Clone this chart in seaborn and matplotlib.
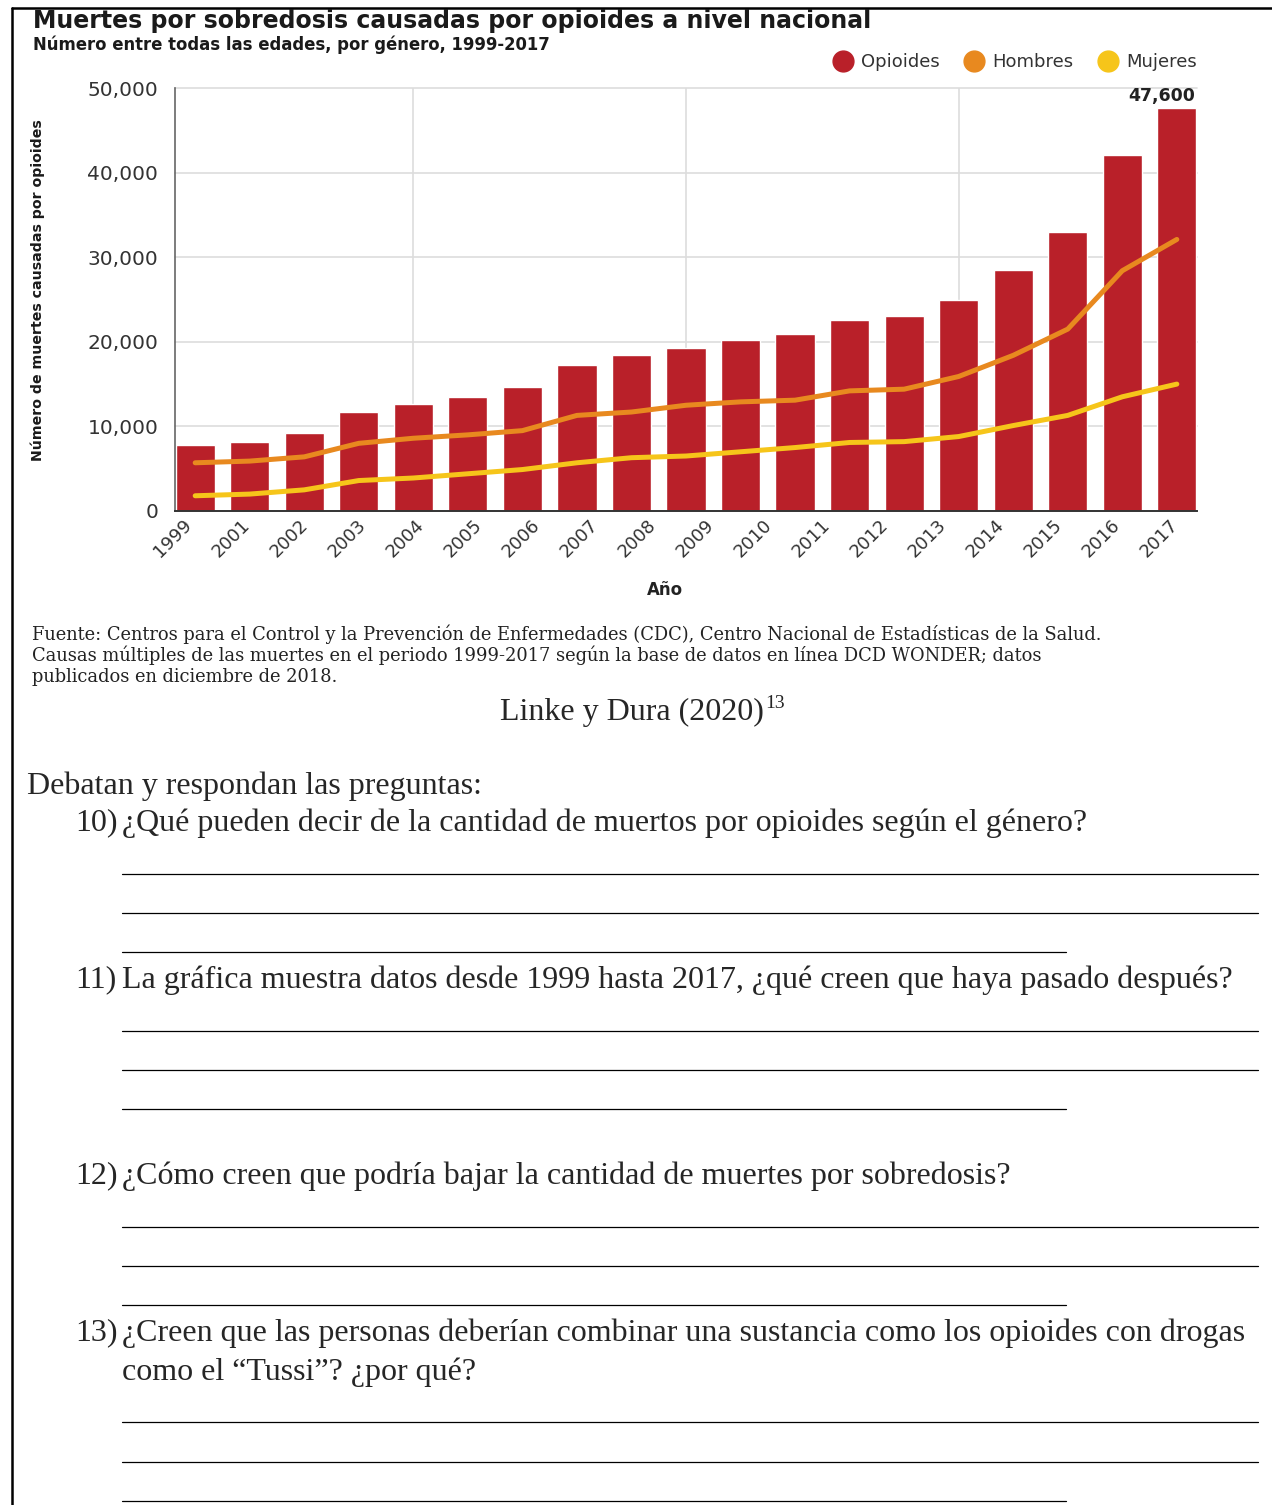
import matplotlib
matplotlib.use('Agg')
import matplotlib.pyplot as plt
from matplotlib.lines import Line2D
import numpy as np
import seaborn as sns

# ── Data ──
BAR_POS = list(range(19))
OPIOIDES = [7800, 8200, 9200, 11700, 12700, 13500, 14700, 17300, 18400, 19300,
            20200, 20900, 22600, 23000, 24900, 28500, 33000, 42100, 47600]
HOMBRES = [5700, 5900, 6400, 8000, 8600, 9000, 9500, 11300, 11700, 12500,
           12900, 13100, 14200, 14400, 15900, 18400, 21500, 28400, 32100]
MUJERES = [1800, 2000, 2500, 3600, 3900, 4400, 4900, 5700, 6300, 6500,
           7000, 7500, 8100, 8200, 8800, 10100, 11300, 13500, 15000]
YEAR_LABELS = ["1999", "2001", "2002", "2003", "2004", "2005", "2006", "2007", "2008",
               "2009", "2010", "2011", "2012", "2013", "2014", "2015", "2016", "2017"]
Y_TICKS = [0, 10000, 20000, 30000, 40000, 50000]
Y_TICK_LABELS = ["0", "10,000", "20,000", "30,000", "40,000", "50,000"]
SERIES = ["Opioides", "Hombres", "Mujeres"]

RED, ORANGE, YELLOW = '#B92029', '#E8891F', '#F6C51A'

W, H = 1272, 1505
def fx(px): return px / W
def fy(py): return 1 - py / H

sns.set_style('white')
plt.rcParams['font.family'] = ['DejaVu Sans']

fig = plt.figure(figsize=(W / 100, H / 100), dpi=100)
ax = fig.add_axes([fx(175), fy(511), (1197 - 175) / W, (511 - 88) / H])

# gridlines
for v in Y_TICKS[1:]:
    ax.axhline(v, color='#dddddd', lw=1.2, zorder=0, clip_on=False)
for p in [4, 9, 14]:
    ax.axvline(p, color='#dddddd', lw=1.2, zorder=0)

sns.barplot(x=BAR_POS, y=OPIOIDES, color=RED, width=0.72, saturation=1,
            ax=ax, zorder=2)
sns.lineplot(x=BAR_POS, y=HOMBRES, color=ORANGE, lw=3.6, ax=ax, zorder=3,
             solid_capstyle='round', solid_joinstyle='round')
sns.lineplot(x=BAR_POS, y=MUJERES, color=YELLOW, lw=3.6, ax=ax, zorder=3,
             solid_capstyle='round', solid_joinstyle='round')

ax.set_xlim(-0.37, 18.37)
ax.set_ylim(0, 50000)
ax.set_yticks(Y_TICKS)
ax.set_yticklabels(Y_TICK_LABELS, fontsize=14.5, color='#333333')
ax.set_xticks(np.linspace(-0.12, 17.98, len(YEAR_LABELS)))
ax.set_xticklabels(YEAR_LABELS, rotation=45, ha='right', va='center',
                   rotation_mode='anchor', fontsize=13, color='#333333')
ax.tick_params(axis='y', length=0, pad=12)
ax.tick_params(axis='x', length=0, pad=8)
ax.set_xlabel('')
ax.set_ylabel('')
for s in ['top', 'right']:
    ax.spines[s].set_visible(False)
ax.spines['left'].set_color('#666666')
ax.spines['left'].set_linewidth(1.2)
ax.spines['bottom'].set_color('#333333')
ax.spines['bottom'].set_linewidth(1.4)

ax.text(18.34, OPIOIDES[-1] + 350, '47,600', ha='right', va='bottom',
        fontsize=12.5, fontweight='bold', color='#222222')

# titles and labels
fig.text(fx(33), fy(21), 'Muertes por sobredosis causadas por opioides a nivel nacional',
         fontsize=17, fontweight='bold', color='#1a1a1a', va='center')
fig.text(fx(33), fy(45), 'Número entre todas las edades, por género, 1999-2017',
         fontsize=11.9, fontweight='bold', color='#1a1a1a', va='center')
fig.text(fx(38), fy(290), 'Número de muertes causadas por opioides', rotation=90,
         fontsize=10.2, fontweight='bold', color='#1a1a1a', ha='center', va='center')
fig.text(fx(665), fy(590), 'Año', fontsize=12, fontweight='bold', color='#222222',
         ha='center', va='center')

handles = [Line2D([], [], marker='o', ls='', markersize=15, color=c)
           for c in [RED, ORANGE, YELLOW]]
fig.legend(handles, SERIES, loc='center right', bbox_to_anchor=(fx(1204), fy(62)),
           ncol=3, frameon=False, fontsize=13, handletextpad=0.0,
           columnspacing=0.9, borderaxespad=0, labelcolor='#333333')

# source note
src = ["Fuente: Centros para el Control y la Prevención de Enfermedades (CDC), Centro Nacional de Estadísticas de la Salud.",
       "Causas múltiples de las muertes en el periodo 1999-2017 según la base de datos en línea DCD WONDER; datos",
       "publicados en diciembre de 2018."]
for i, line in enumerate(src):
    fig.text(fx(32), fy(634 + 21.5 * i), line, family='DejaVu Serif', fontsize=12.9,
             color='#222222', va='center')

serif = 'Liberation Serif'
fig.text(fx(500), fy(712), 'Linke y Dura (2020)', family=serif, fontsize=23,
         ha='left', va='center')
fig.text(fx(765), fy(703), '13', family=serif, fontsize=14, ha='left', va='center')

fig.text(fx(27), fy(786), 'Debatan y respondan las preguntas:', family=serif,
         fontsize=23, va='center')

questions = [
    (823, '10)', ['¿Qué pueden decir de la cantidad de muertos por opioides según el género?']),
    (980, '11)', ['La gráfica muestra datos desde 1999 hasta 2017, ¿qué creen que haya pasado después?']),
    (1176, '12)', ['¿Cómo creen que podría bajar la cantidad de muertes por sobredosis?']),
    (1333, '13)', ['¿Creen que las personas deberían combinar una sustancia como los opioides con drogas',
                   'como el “Tussi”? ¿por qué?']),
]
answer_lines = [[874, 913, 952], [1031, 1070, 1109], [1227, 1266, 1305], [1422, 1462, 1501]]
for (y, num, lines), ans in zip(questions, answer_lines):
    fig.text(fx(75), fy(y), num, family=serif, fontsize=23, va='center')
    for j, t in enumerate(lines):
        fig.text(fx(122), fy(y + 39 * j), t, family=serif, fontsize=23, va='center')
    for k, ly in enumerate(ans):
        x1 = 1066 if k == 2 else 1258
        fig.add_artist(Line2D([fx(122), fx(x1)], [fy(ly), fy(ly)], color='black', lw=0.9))

# page frame
fig.add_artist(Line2D([fx(12), 1], [fy(8), fy(8)], color='black', lw=1.8))
fig.add_artist(Line2D([fx(12), fx(12)], [fy(8), 0], color='black', lw=1.8))

fig.savefig('out.png', dpi=100, facecolor='white')
